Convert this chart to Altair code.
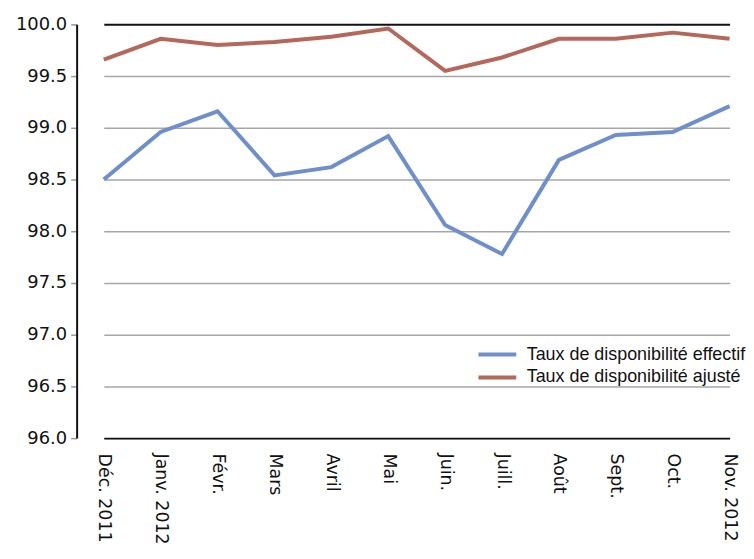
import altair as alt
import pandas as pd

months = ["Déc. 2011", "Janv. 2012", "Févr.", "Mars", "Avril", "Mai", "Juin.",
          "Juill.", "Août", "Sept.", "Oct.", "Nov. 2012"]
effectif = [98.50, 98.96, 99.16, 98.54, 98.62, 98.92, 98.06, 97.78, 98.69, 98.93, 98.96, 99.21]
ajuste = [99.66, 99.86, 99.80, 99.83, 99.88, 99.96, 99.55, 99.68, 99.86, 99.86, 99.92, 99.86]
series = ["Taux de disponibilité effectif", "Taux de disponibilité ajusté"]
colors = ["#6f8fcb", "#b5675b"]
y_ticks = [96.0, 96.5, 97.0, 97.5, 98.0, 98.5, 99.0, 99.5, 100.0]

rows = []
for i, m in enumerate(months):
    rows.append({"mois": m, "serie": series[0], "valeur": effectif[i], "ordre": i})
    rows.append({"mois": m, "serie": series[1], "valeur": ajuste[i], "ordre": i})
df = pd.DataFrame(rows)

chart = alt.Chart(df).mark_line(strokeWidth=4, strokeCap="butt", strokeJoin="miter").encode(
    x=alt.X("mois:N", sort=months, title=None,
            scale=alt.Scale(type="point", padding=0, range=[27.3, 656.5]),
            axis=alt.Axis(labelAngle=90, labelAlign="left", labelBaseline="middle",
                          labelFont="DejaVu Sans", labelFontSize=17.5, labelColor="#111",
                          labelPadding=15, ticks=False, domainColor="#111",
                          domainWidth=2, grid=False)),
    y=alt.Y("valeur:Q", title=None,
            scale=alt.Scale(domain=[96, 100], nice=False, zero=False),
            axis=alt.Axis(values=y_ticks, format=".1f", labelFont="DejaVu Sans",
                          labelFontSize=18, labelColor="#111", labelPadding=4,
                          tickSize=6, tickColor="#999", tickWidth=1.5,
                          domainColor="#111", domainWidth=2,
                          grid=True,
                          gridColor=alt.condition("datum.value == 100",
                                                  alt.value("#111"), alt.value("#a6a6a6")),
                          gridWidth=alt.condition("datum.value == 100",
                                                  alt.value(2), alt.value(1.5)))),
    color=alt.Color("serie:N", sort=series, title=None,
                    scale=alt.Scale(domain=series, range=colors),
                    legend=alt.Legend(orient="none", legendX=413, legendY=322,
                                      symbolType="M-2.5,0H2.5", symbolSize=231,
                                      symbolStrokeWidth=4, labelFont="Liberation Sans",
                                      labelFontSize=18, labelColor="#111", labelLimit=400,
                                      labelOffset=19.5, rowPadding=4)),
    order="ordre:Q",
).properties(
    width=668, height=416,
    padding={"left": 7, "top": 6, "right": 0, "bottom": 0},
).configure_view(stroke=None)

chart.save("out.html", embed_options={"renderer": "svg", "actions": False})
